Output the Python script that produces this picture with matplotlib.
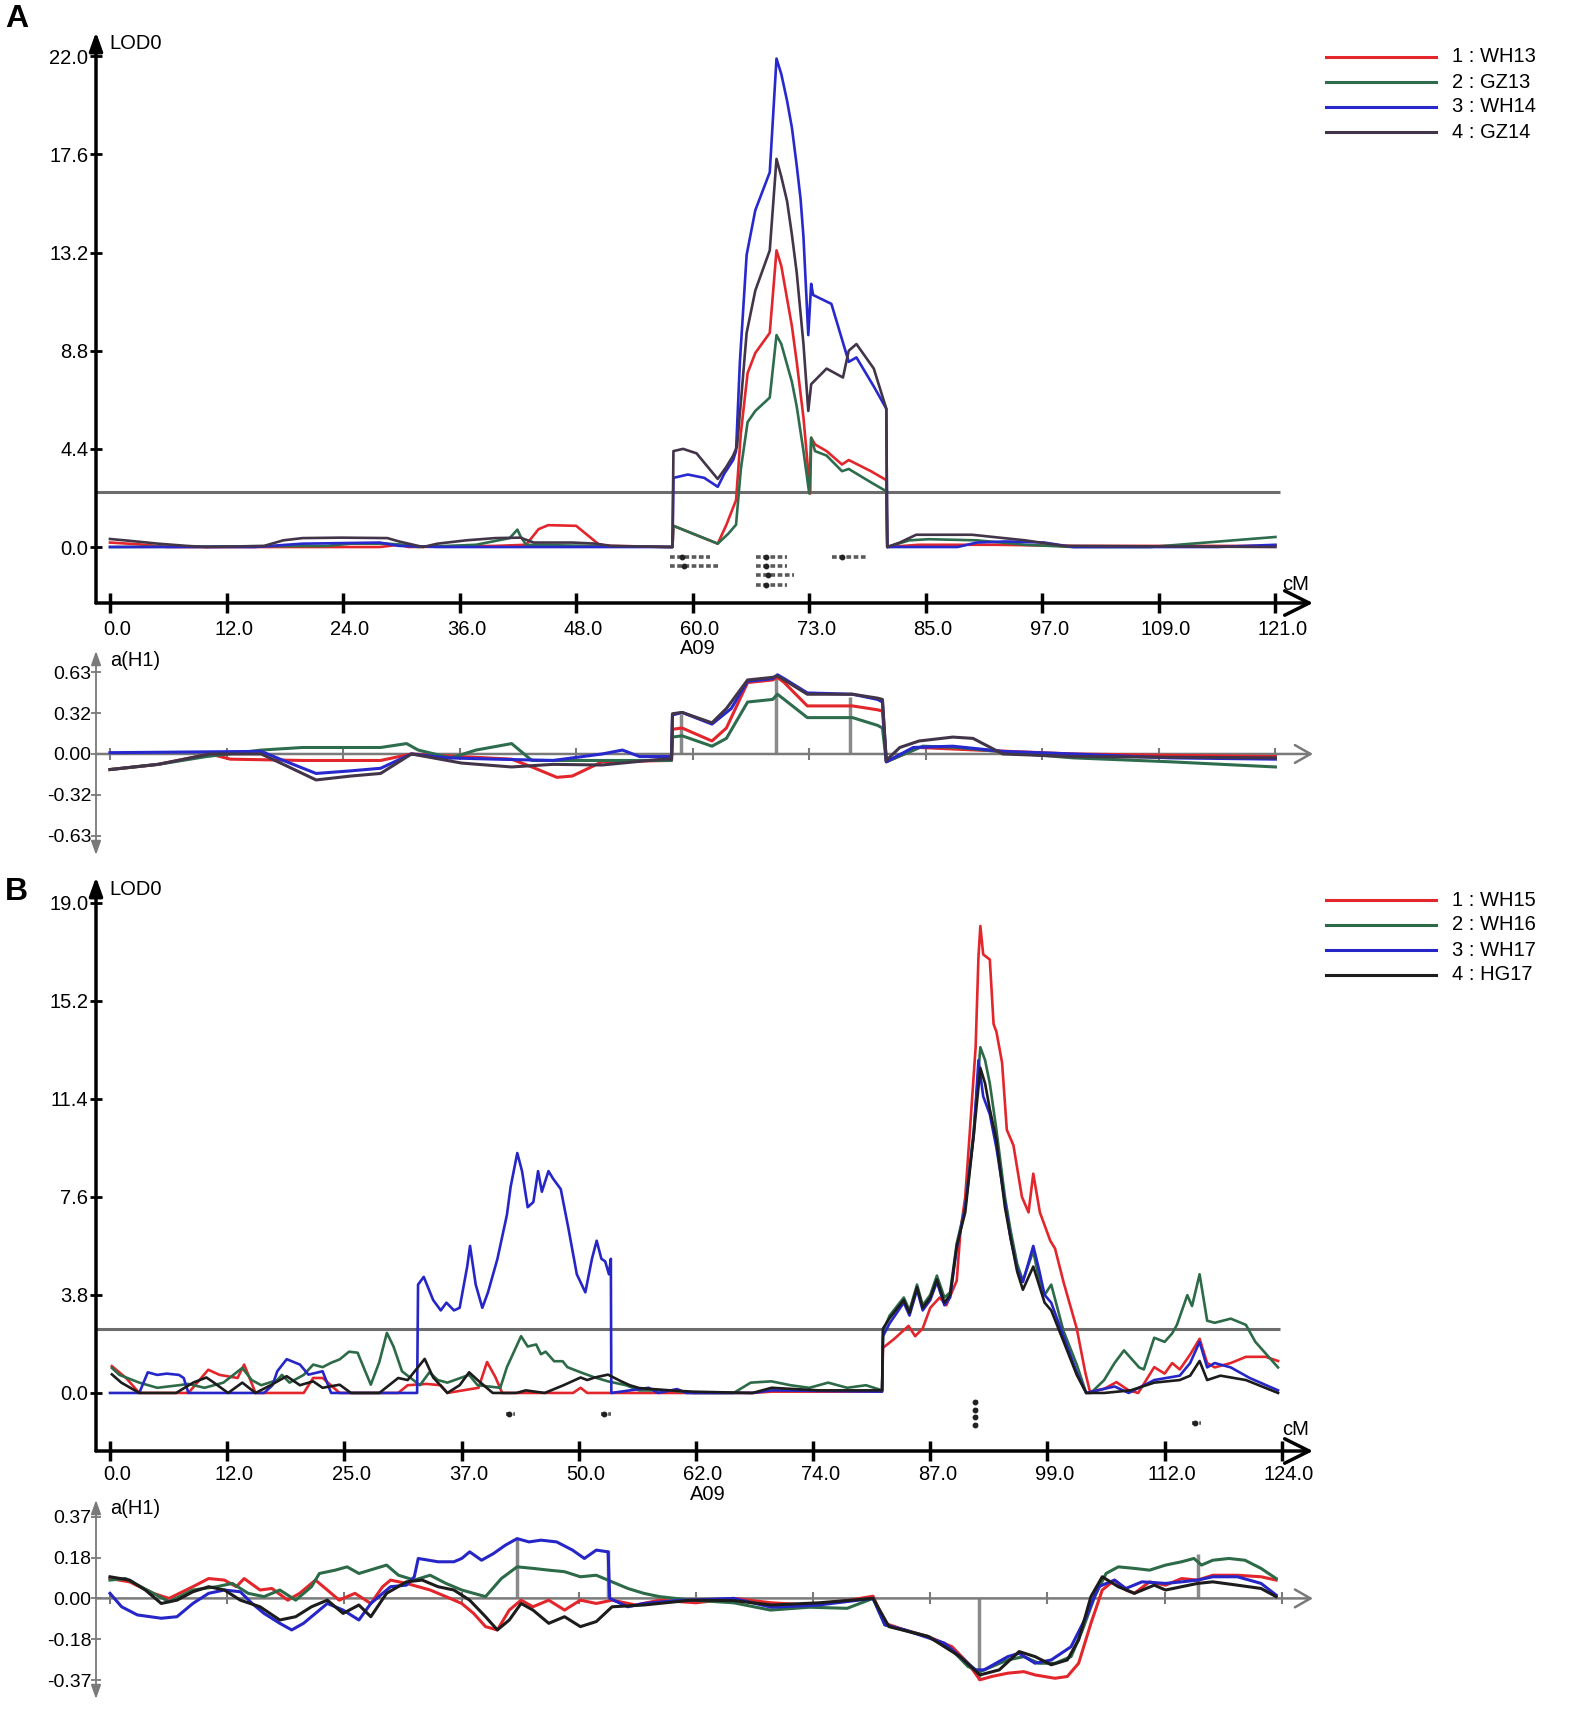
import matplotlib
matplotlib.use('Agg')
import matplotlib.pyplot as plt
from matplotlib.lines import Line2D
from matplotlib.transforms import ScaledTranslation

plt.rcParams['font.family'] = ['Liberation Sans', 'DejaVu Sans']

# ---------------- data ----------------
A_NAMES = ['1 : WH13', '2 : GZ13', '3 : WH14', '4 : GZ14']
B_NAMES = ['1 : WH15', '2 : WH16', '3 : WH17', '4 : HG17']
A_COLORS = ['#e3262b', '#2e6c4e', '#2828cf', '#433549']
B_COLORS = ['#e3262b', '#2d6a48', '#2626c8', '#1c1c1c']

A_XTICKS = [0, 12.1, 24.2, 36.3, 48.4, 60.5, 72.6, 84.7, 96.8, 108.9, 121]
A_XLABELS = ['0.0', '12.0', '24.0', '36.0', '48.0', '60.0', '73.0', '85.0', '97.0', '109.0', '121.0']
A_YTICKS = [0, 4.4, 8.8, 13.2, 17.6, 22.0]
A_AH1_TICKS = [-0.63, -0.315, 0, 0.315, 0.63]
A_AH1_LABELS = ['-0.63', '-0.32', '0.00', '0.32', '0.63']

B_XTICKS = [0, 12.4, 24.8, 37.2, 49.6, 62, 74.4, 86.8, 99.2, 111.6, 124]
B_XLABELS = ['0.0', '12.0', '25.0', '37.0', '50.0', '62.0', '74.0', '87.0', '99.0', '112.0', '124.0']
B_YTICKS = [0, 3.8, 7.6, 11.4, 15.2, 19.0]
B_AH1_TICKS = [-0.37, -0.185, 0, 0.185, 0.37]
B_AH1_LABELS = ['-0.37', '-0.18', '0.00', '0.18', '0.37']

A_THRESH = 2.45
B_THRESH = 2.48

# panel A, LOD profiles (cM, LOD)
A_LOD_WH13 = [(0, 0.2), (3, 0.12), (6, 0.0), (10, 0.0), (28, 0.0), (30, 0.1), (31, 0.0), (40, 0.05),
              (43.2, 0.1), (44.5, 0.8), (45.5, 0.98), (48.4, 0.95), (50.8, 0.1), (52, 0.05), (58.4, 0.0),
              (58.5, 0.95), (63.1, 0.15), (64.0, 1.0), (65.0, 2.1), (65.5, 5.1), (66.2, 7.8), (67.0, 8.7),
              (68.5, 9.6), (69.2, 13.3), (69.7, 12.6), (70.8, 9.9), (71.3, 8.3), (72.0, 5.8), (72.7, 2.4),
              (72.8, 4.9), (73.2, 4.6), (74.4, 4.3), (76.0, 3.7), (76.7, 3.9), (79.0, 3.4), (80.6, 3.0),
              (80.7, 0.0), (84, 0.1), (92, 0.1), (100, 0.05), (121, 0.05)]
A_LOD_GZ13 = [(0, 0.0), (22.5, 0.05), (25, 0.15), (28.8, 0.15), (30.5, 0.1), (32, 0.0), (38, 0.1),
              (41.5, 0.4), (42.3, 0.78), (42.6, 0.5), (43.2, 0.1), (50, 0.05), (58.4, 0.0), (58.5, 0.95),
              (63.1, 0.15), (64.2, 0.6), (65.0, 1.0), (65.5, 3.5), (66.2, 5.6), (67.0, 6.1), (68.5, 6.7),
              (69.2, 9.5), (69.7, 9.1), (70.8, 7.4), (71.3, 6.3), (72.0, 4.3), (72.6, 2.4), (72.8, 4.9),
              (73.2, 4.3), (74.4, 4.1), (76.0, 3.4), (76.7, 3.5), (79.0, 2.9), (80.6, 2.5), (80.7, 0.0),
              (83, 0.3), (85, 0.35), (90, 0.3), (95, 0.1), (100, 0.0), (108, 0.0), (121, 0.45)]
A_LOD_WH14 = [(0, 0.0), (15, 0.0), (20, 0.15), (28, 0.2), (30, 0.05), (34, 0.0), (58.4, 0.0), (58.5, 3.1),
              (60.0, 3.25), (61.7, 3.1), (63.1, 2.7), (63.8, 3.3), (64.7, 3.9), (65.0, 4.3), (65.4, 8.3),
              (66.1, 13.1), (67.0, 15.1), (68.5, 16.8), (69.2, 21.9), (69.7, 21.2), (70.3, 20.0),
              (70.8, 18.8), (71.3, 17.1), (71.7, 15.6), (72.0, 13.9), (72.5, 9.5), (72.8, 11.8), (73.0, 11.3),
              (74.9, 10.9), (76.7, 8.3), (77.5, 8.5), (79.3, 7.2), (80.6, 6.2), (80.7, 0.0), (88, 0.0),
              (90, 0.2), (93, 0.25), (97, 0.2), (100, 0.0), (115, 0.0), (121, 0.1)]
A_LOD_GZ14 = [(0, 0.36), (2, 0.28), (5, 0.15), (8, 0.05), (10, 0.0), (16, 0.05), (18, 0.3), (20, 0.4),
              (24, 0.42), (28.8, 0.4), (30, 0.25), (32.5, 0.0), (34, 0.15), (37, 0.3), (40, 0.4),
              (42.6, 0.42), (44, 0.2), (48, 0.2), (50.5, 0.15), (52, 0.05), (58.4, 0.0), (58.5, 4.3),
              (59.5, 4.4), (60.9, 4.2), (63.1, 3.05), (64.0, 3.6), (64.7, 4.1), (65.1, 4.5), (65.6, 7.0),
              (66.1, 9.6), (67.0, 11.5), (68.5, 13.3), (69.2, 17.4), (69.7, 16.6), (70.3, 15.5),
              (70.8, 14.0), (71.3, 12.3), (72.0, 9.1), (72.5, 6.1), (72.8, 7.3), (74.4, 8.0), (76.1, 7.6),
              (76.7, 8.8), (77.5, 9.1), (79.3, 8.0), (80.6, 6.2), (80.7, 0.0), (82, 0.2), (83.7, 0.55),
              (89.5, 0.55), (95, 0.3), (99, 0.05), (121, 0.0)]

# panel A, additive effect a(H1)
A_AH1_WH13 = [(0, -0.12), (5, -0.08), (10.4, 0.0), (12.5, -0.04), (20, -0.05), (28.1, -0.05), (31.3, 0.0),
              (36.5, -0.02), (41.7, -0.04), (43.8, -0.1), (46.4, -0.18), (48, -0.17), (51.1, -0.06),
              (58.3, -0.05), (58.4, 0.19), (59.4, 0.2), (62.5, 0.1), (64, 0.2), (66.2, 0.55), (68.8, 0.57),
              (69.3, 0.59), (70, 0.55), (72.4, 0.37), (77.1, 0.37), (79.7, 0.34), (80.2, 0.33),
              (80.6, -0.06), (84, 0.05), (90, 0.03), (100, 0.0), (110, -0.01), (121, -0.02)]
A_AH1_GZ13 = [(0, -0.12), (5, -0.08), (10, -0.02), (15.7, 0.03), (20, 0.05), (28.1, 0.05), (30.8, 0.08),
              (32, 0.03), (35.4, -0.03), (38, 0.03), (41.7, 0.08), (43.8, -0.05), (50, -0.05), (58.3, -0.05),
              (58.4, 0.13), (59.4, 0.14), (62.5, 0.06), (64, 0.12), (66.2, 0.40), (68.8, 0.42), (69.3, 0.46),
              (70, 0.42), (72.4, 0.28), (77.1, 0.28), (79.7, 0.22), (80.2, 0.2), (80.6, -0.06), (84.4, 0.06),
              (88, 0.05), (95, 0.0), (100, -0.03), (110, -0.06), (121, -0.1)]
A_AH1_WH14 = [(0, 0.01), (15.7, 0.02), (18, -0.05), (21.4, -0.15), (25, -0.13), (28.1, -0.11), (31.3, 0.0),
              (35, -0.03), (40, -0.04), (46, -0.05), (51.1, 0.0), (53.2, 0.03), (55, -0.02), (58.3, -0.02),
              (58.4, 0.30), (59.4, 0.32), (62.5, 0.23), (64.5, 0.35), (66.2, 0.56), (68.8, 0.58), (69.3, 0.61),
              (70, 0.58), (72.4, 0.47), (77.1, 0.46), (79.7, 0.42), (80.2, 0.4), (80.6, -0.06), (83.4, 0.05),
              (87.5, 0.06), (92.7, 0.02), (100, 0.0), (110, -0.03), (121, -0.04)]
A_AH1_GZ14 = [(0, -0.12), (5, -0.08), (10.4, 0.0), (15.7, 0.0), (18, -0.08), (21.4, -0.2), (25, -0.17),
              (28.1, -0.15), (31.3, 0.0), (36.5, -0.07), (41.7, -0.1), (46, -0.08), (51.1, -0.085),
              (57.3, -0.04), (58.3, -0.04), (58.4, 0.31), (59.4, 0.32), (62.5, 0.24), (64, 0.35), (66.2, 0.57),
              (68.8, 0.59), (69.3, 0.6), (70, 0.57), (72.4, 0.46), (77.1, 0.46), (79.7, 0.43), (80.2, 0.42),
              (80.6, -0.05), (82, 0.05), (84, 0.1), (87.5, 0.13), (89.6, 0.12), (92.7, 0.0), (100, -0.02),
              (121, -0.03)]

A_QTL_BARS = [(58.1, 62.3, -0.44), (58.1, 63.1, -0.83), (67.1, 70.3, -0.44), (67.1, 70.3, -0.83),
              (67.1, 71.0, -1.27), (67.1, 70.3, -1.71), (75.0, 78.5, -0.44)]
A_AH1_PEAKS = [(59.3, 0.31), (69.2, 0.61), (76.8, 0.44)]

# panel B, LOD profiles
B_LOD_WH15 = [(0.2, 1.04), (1.7, 0.58), (3.1, 0.0), (8.3, 0.0), (10.4, 0.9), (11.6, 0.7), (13.5, 0.58),
              (14.2, 1.1), (15.4, 0.0), (20.5, 0.0), (21.5, 0.58), (22.5, 0.58), (24.3, 0.0), (30.5, 0.0),
              (31.5, 0.3), (33.5, 0.35), (35.0, 0.3), (35.7, 0.0), (39.0, 0.2), (39.9, 1.2), (40.8, 0.6),
              (41.5, 0.0), (49.0, 0.0), (49.8, 0.2), (50.5, 0.0), (68, 0.0), (70, 0.05), (81.7, 0.05),
              (81.8, 1.75), (83, 2.1), (84.5, 2.6), (85.2, 2.2), (86.0, 2.5), (86.8, 3.3), (87.8, 3.7),
              (88.5, 3.4), (89.6, 4.35), (90.0, 6.3), (90.5, 7.6), (91.0, 10.2), (91.6, 13.4), (91.9, 16.9),
              (92.1, 18.1), (92.4, 17.0), (93.1, 16.8), (93.5, 14.3), (93.8, 14.0), (94.4, 12.8),
              (94.9, 10.2), (95.6, 9.6), (96.5, 7.6), (97.2, 7.0), (97.7, 8.5), (98.4, 7.0), (99.5, 5.9),
              (100.0, 5.6), (100.9, 4.3), (102.3, 2.5), (103.2, 0.8), (103.7, 0.05), (105.2, 0.16),
              (106.5, 0.42), (107.8, 0.1), (108.8, 0.0), (110.5, 1.0), (111.6, 0.75), (112.4, 1.16),
              (113.2, 0.91), (114.3, 1.49), (115.3, 2.1), (116.1, 1.16), (116.9, 0.99), (118.6, 1.16),
              (120.2, 1.4), (122.3, 1.4), (123.6, 1.24)]
B_LOD_WH16 = [(0.2, 0.97), (1.0, 0.7), (3.1, 0.4), (5, 0.2), (7.3, 0.3), (8.3, 0.35), (10, 0.2), (12, 0.4),
              (14.0, 0.97), (15.0, 0.5), (16, 0.3), (17.7, 0.5), (18.2, 0.7), (19, 0.4), (20.5, 0.7),
              (21.5, 1.1), (22.5, 1.0), (23.4, 1.17), (24.3, 1.3), (25.3, 1.6), (26.2, 1.56), (27.6, 0.32),
              (28.5, 1.2), (29.3, 2.33), (30.0, 1.8), (30.9, 0.84), (32.8, 0.3), (33.8, 0.8), (34.7, 0.5),
              (35.7, 0.4), (38.0, 0.7), (38.9, 0.3), (41.3, 0.2), (42.0, 1.0), (43.5, 2.2), (44.2, 1.8),
              (45.1, 1.88), (45.6, 1.5), (46.1, 1.6), (47.0, 1.23), (47.9, 1.23), (48.4, 1.0), (49.8, 0.8),
              (51.3, 0.6), (52.7, 0.45), (54.6, 0.3), (56.0, 0.1), (59.3, 0.1), (61.7, 0.0), (66, 0.0),
              (67.8, 0.4), (70, 0.45), (72, 0.3), (74, 0.2), (76, 0.4), (78, 0.2), (80, 0.3), (81.7, 0.1),
              (81.8, 2.4), (82.5, 3.0), (84, 3.7), (84.6, 3.2), (85.4, 4.2), (86.0, 3.4), (86.8, 3.8),
              (87.5, 4.55), (88.3, 3.7), (88.9, 3.9), (89.6, 5.8), (90.5, 7.2), (91.4, 10.2), (92.1, 13.4),
              (92.6, 12.9), (93.1, 12.0), (93.8, 10.2), (94.7, 7.6), (95.3, 6.3), (96.0, 5.0), (96.6, 4.35),
              (97.7, 5.5), (98.2, 4.6), (98.9, 3.8), (99.6, 4.2), (100.9, 2.4), (102.3, 1.1), (103.3, 0.0),
              (103.8, 0.0), (105.2, 0.5), (106.3, 1.16), (107.3, 1.65), (108.9, 0.99), (109.4, 0.91),
              (110.5, 2.14), (111.6, 1.98), (112.4, 2.31), (112.9, 2.64), (114.0, 3.79), (114.5, 3.37),
              (115.3, 4.6), (116.1, 2.8), (116.9, 2.72), (118.6, 2.88), (120.2, 2.64), (121.2, 1.98),
              (123.6, 0.99)]
B_LOD_WH17 = [(0, 0.0), (3.1, 0.0), (4.0, 0.8), (5.0, 0.7), (6, 0.75), (7.3, 0.7), (7.8, 0.58), (8.3, 0.0),
              (16.3, 0.0), (17.2, 0.3), (17.7, 0.84), (18.7, 1.31), (20.1, 1.1), (21.0, 0.71), (22.5, 0.84),
              (23.4, 0.0), (32.5, 0.0), (32.6, 4.2), (33.2, 4.5), (34.2, 3.6), (35.0, 3.2), (35.6, 3.5),
              (36.4, 3.2), (37.0, 3.3), (37.8, 4.9), (38.1, 5.7), (38.7, 4.2), (39.4, 3.3), (40.0, 3.9),
              (41.0, 5.2), (42.0, 6.9), (42.4, 8.0), (43.1, 9.3), (43.6, 8.6), (44.2, 7.2), (44.8, 7.4),
              (45.3, 8.6), (45.7, 7.8), (46.4, 8.6), (46.9, 8.3), (47.7, 7.9), (48.5, 6.4), (49.4, 4.6),
              (50.3, 3.9), (51.0, 5.2), (51.5, 5.9), (52.0, 5.2), (52.4, 5.1), (52.8, 4.6), (53.0, 5.2),
              (53.05, 0.0), (57, 0.2), (58, 0.0), (60, 0.15), (61, 0.0), (68, 0.0), (70, 0.1), (81.7, 0.05),
              (81.8, 2.2), (82.5, 2.7), (84, 3.5), (84.6, 3.0), (85.4, 4.0), (86.0, 3.2), (86.8, 3.6),
              (87.5, 4.3), (88.3, 3.4), (88.9, 3.7), (89.6, 5.6), (90.5, 7.2), (91.4, 10.0), (91.9, 12.9),
              (92.4, 11.5), (93.1, 10.8), (93.8, 9.5), (94.7, 7.4), (95.3, 6.0), (96.0, 4.8), (96.6, 4.3),
              (97.7, 5.7), (98.3, 4.8), (98.9, 3.8), (99.6, 3.5), (100.9, 2.2), (102.3, 0.8), (103.3, 0.0),
              (105.2, 0.16), (106.3, 0.25), (107.8, 0.0), (110.5, 0.5), (113.2, 0.67), (114.3, 1.16),
              (115.3, 1.98), (116.1, 0.99), (116.9, 1.16), (118.6, 0.99), (120.6, 0.58), (123.6, 0.1)]
B_LOD_HG17 = [(0.2, 0.72), (1.2, 0.4), (3.1, 0.0), (7, 0.0), (8.8, 0.4), (10.2, 0.6), (11, 0.4), (12.5, 0.0),
              (14.0, 0.4), (15.4, 0.0), (17.0, 0.3), (18.7, 0.65), (20.1, 0.3), (21.5, 0.45), (22.5, 0.2),
              (24.3, 0.32), (25.5, 0.0), (28.5, 0.0), (30.5, 0.58), (31.5, 0.5), (33.3, 1.32), (34.2, 0.6),
              (35.7, 0.0), (37.0, 0.3), (38.0, 0.8), (38.9, 0.5), (40.5, 0.0), (43, 0.0), (44, 0.1),
              (46, 0.0), (48.0, 0.3), (49.8, 0.6), (50.5, 0.5), (51.3, 0.6), (52.7, 0.71), (54.1, 0.45),
              (55.0, 0.3), (56.0, 0.19), (59.3, 0.1), (61.7, 0.05), (68, 0.0), (70, 0.2), (75, 0.1),
              (81.7, 0.1), (81.8, 2.5), (82.5, 2.9), (84, 3.6), (84.6, 3.1), (85.4, 4.1), (86.0, 3.3),
              (86.8, 3.7), (87.5, 4.4), (88.3, 3.5), (88.9, 3.8), (89.6, 5.7), (90.5, 7.0), (91.4, 10.0),
              (92.1, 12.6), (92.6, 12.0), (93.1, 11.0), (93.8, 9.8), (94.7, 7.2), (95.3, 6.0), (96.0, 4.7),
              (96.6, 4.0), (97.7, 4.9), (98.3, 4.2), (98.9, 3.5), (99.6, 3.2), (100.9, 2.0), (102.3, 0.7),
              (103.3, 0.0), (105.2, 0.0), (108, 0.1), (110.5, 0.4), (113.2, 0.5), (114.3, 0.67),
              (115.3, 1.24), (116.1, 0.5), (117.5, 0.67), (120.2, 0.5), (123.6, 0.0)]

# panel B, additive effect a(H1)
B_AH1_WH15 = [(0, 0.09), (2.07, 0.075), (4.58, 0.023), (6.25, 0.0), (8.77, 0.053), (10.44, 0.09),
              (12.11, 0.083), (13.37, 0.053), (14.2, 0.09), (15.88, 0.038), (17.14, 0.045), (18.81, -0.008),
              (20.07, 0.023), (21.74, 0.083), (23.0, 0.038), (24.25, -0.008), (25.92, 0.023), (27.6, -0.023),
              (28.85, 0.053), (29.69, 0.083), (31.37, 0.068), (33.88, 0.038), (35.55, 0.008), (37.22, -0.023),
              (38.48, -0.068), (39.74, -0.128), (40.99, -0.143), (42.25, -0.053), (43.5, -0.008),
              (44.76, -0.038), (46.43, -0.008), (48.1, -0.053), (49.78, -0.008), (51.46, -0.023),
              (53.13, -0.008), (55.64, -0.03), (58.15, -0.008), (62, -0.02), (66, 0.0), (70, -0.02),
              (74, -0.03), (78, -0.01), (80.75, 0.01), (82.0, -0.113), (84.1, -0.143), (86.6, -0.173),
              (89.1, -0.219), (90.8, -0.294), (92.05, -0.369), (93.3, -0.354), (95.0, -0.339),
              (96.7, -0.332), (97.9, -0.347), (100.0, -0.362), (101.3, -0.354), (102.5, -0.294),
              (103.8, -0.113), (105.0, 0.038), (106.3, 0.083), (107.5, 0.038), (108.4, 0.023), (110.0, 0.075),
              (111.7, 0.06), (113.4, 0.09), (115.1, 0.083), (116.7, 0.105), (119.3, 0.105), (121.8, 0.098),
              (123.4, 0.083)]
B_AH1_WH16 = [(0, 0.083), (1.65, 0.09), (4.58, 0.023), (6.25, -0.015), (8.77, 0.038), (11.28, 0.053),
              (12.95, 0.068), (14.62, 0.023), (16.3, 0.008), (17.97, 0.038), (19.65, -0.008), (21.32, 0.053),
              (22.16, 0.113), (23.83, 0.128), (25.09, 0.143), (26.34, 0.113), (29.27, 0.151), (30.53, 0.105),
              (32.2, 0.083), (33.88, 0.105), (35.55, 0.068), (37.22, 0.038), (39.74, 0.008), (41.41, 0.09),
              (43.08, 0.143), (44.76, 0.136), (46.43, 0.128), (48.1, 0.121), (49.78, 0.098), (51.46, 0.105),
              (53.13, 0.075), (54.8, 0.045), (56.48, 0.023), (58.15, 0.008), (61.5, -0.008), (66, -0.02),
              (69.9, -0.053), (74, -0.04), (78, -0.045), (80.75, 0.0), (82.0, -0.12), (86.6, -0.173),
              (89.1, -0.234), (90.8, -0.309), (92.05, -0.332), (95.0, -0.279), (96.7, -0.264),
              (98.3, -0.294), (100.0, -0.294), (101.7, -0.264), (102.9, -0.143), (104.2, 0.008),
              (105.4, 0.113), (106.7, 0.143), (108.4, 0.136), (110.0, 0.128), (111.7, 0.151), (113.4, 0.166),
              (114.7, 0.181), (115.5, 0.151), (116.7, 0.173), (118.4, 0.181), (120.1, 0.173), (121.8, 0.136),
              (123.4, 0.09)]
B_AH1_WH17 = [(0, 0.023), (1.23, -0.038), (2.9, -0.075), (5.42, -0.09), (7.09, -0.083), (8.77, -0.023),
              (10.44, 0.023), (12.11, 0.038), (13.79, 0.03), (15.04, -0.023), (16.3, -0.068), (17.97, -0.113),
              (19.23, -0.143), (20.48, -0.113), (22.16, -0.053), (23.0, -0.023), (24.67, -0.053),
              (26.34, -0.098), (27.6, -0.023), (29.69, 0.053), (31.37, 0.06), (32.2, 0.098), (32.62, 0.181),
              (34.71, 0.166), (36.39, 0.166), (37.22, 0.181), (38.06, 0.211), (39.32, 0.173), (40.57, 0.203),
              (41.83, 0.241), (43.08, 0.271), (44.34, 0.256), (45.6, 0.264), (47.27, 0.256), (48.94, 0.219),
              (50.2, 0.181), (51.46, 0.219), (52.71, 0.211), (52.88, 0.0), (54.8, -0.038), (56.48, -0.023),
              (60, -0.01), (66, 0.0), (70, -0.04), (75, -0.03), (80.75, 0.0), (82.0, -0.12), (84.1, -0.143),
              (88.3, -0.203), (91.6, -0.324), (92.5, -0.324), (95.0, -0.264), (96.2, -0.249), (97.9, -0.294),
              (99.6, -0.279), (101.7, -0.219), (103.3, -0.083), (104.6, 0.053), (106.3, 0.083),
              (107.5, 0.045), (109.2, 0.075), (111.7, 0.068), (113.4, 0.075), (115.1, 0.083), (116.7, 0.098),
              (119.3, 0.098), (121.8, 0.068), (123.4, 0.015)]
B_AH1_HG17 = [(0, 0.098), (2.07, 0.083), (3.74, 0.038), (5.42, -0.023), (7.09, -0.008), (8.77, 0.03),
              (10.44, 0.053), (12.11, 0.038), (13.79, -0.008), (15.88, -0.038), (17.97, -0.098),
              (19.65, -0.083), (21.32, -0.038), (23.0, -0.008), (24.67, -0.068), (26.34, -0.03),
              (27.6, -0.083), (29.27, 0.023), (31.37, 0.075), (33.04, 0.083), (34.71, 0.053), (36.39, 0.038),
              (38.06, -0.008), (39.74, -0.083), (40.99, -0.143), (42.25, -0.098), (43.5, -0.023),
              (44.76, -0.053), (46.43, -0.113), (48.1, -0.083), (49.78, -0.128), (51.46, -0.105),
              (53.13, -0.038), (56.48, -0.03), (61.5, -0.008), (66, -0.01), (70, -0.03), (75, -0.02),
              (80.75, 0.0), (82.43, -0.128), (86.6, -0.173), (89.96, -0.264), (92.05, -0.347), (94.1, -0.324),
              (96.2, -0.241), (97.9, -0.264), (99.6, -0.301), (101.3, -0.279), (102.5, -0.188), (103.8, 0.008),
              (105.0, 0.098), (106.7, 0.053), (108.4, 0.023), (110.5, 0.06), (111.7, 0.038), (113.4, 0.053),
              (115.1, 0.068), (116.7, 0.075), (119.3, 0.06), (121.8, 0.045), (123.4, 0.008)]

B_QTL_BARS = [(41.9, 42.9, -0.8), (52.0, 53.0, -0.8), (91.4, 91.9, -0.35), (91.4, 91.9, -0.65),
              (91.4, 91.9, -0.95), (91.4, 91.9, -1.25), (114.5, 115.5, -1.18)]
B_AH1_PEAKS = [(43.1, 0.27), (52.7, 0.22), (92.0, -0.37), (115.1, 0.2)]

# ---------------- drawing ----------------
W, H = 1573, 1712
fig = plt.figure(figsize=(W / 100, H / 100), dpi=100)
FS = 14.5
GRAY = '#7a7a7a'


def box(left, top, right, bottom):
    return [left / W, 1 - bottom / H, (right - left) / W, (bottom - top) / H]


def unzip(pts):
    return [p[0] for p in pts], [p[1] for p in pts]


def lod_axes(rect, xlim, ylim, xticks, xlabels, yticks, series, colors, thresh, thr_end, bars, xpad):
    ax = fig.add_axes(rect)
    ax.patch.set_alpha(0)
    ax.set_xlim(*xlim)
    ax.set_ylim(*ylim)
    for s in ax.spines.values():
        s.set_visible(False)
    ax.annotate('', xy=(0, 1), xytext=(0, 0), xycoords='axes fraction',
                arrowprops=dict(arrowstyle='-|>,head_length=0.7,head_width=0.25', lw=2.5, color='k',
                                shrinkA=0, shrinkB=0, mutation_scale=16))
    ax.annotate('', xy=(1, 0), xytext=(0, 0), xycoords='axes fraction',
                arrowprops=dict(arrowstyle='->,head_length=0.8,head_width=0.4', lw=2.5, color='k',
                                shrinkA=0, shrinkB=0, mutation_scale=22))
    ax.set_xticks(xticks)
    ax.set_xticklabels(xlabels, fontsize=FS)
    ax.set_yticks(yticks)
    ax.set_yticklabels(['%.1f' % v for v in yticks], fontsize=FS)
    ax.tick_params(axis='x', direction='inout', length=14, width=2.5, pad=xpad)
    ax.tick_params(axis='y', direction='inout', length=9, width=2, pad=1)
    off = ScaledTranslation(7 / 100, 0, fig.dpi_scale_trans)
    for lab in ax.get_xticklabels():
        lab.set_transform(lab.get_transform() + off)
    ax.hlines(thresh, xlim[0], thr_end, color='#6c6c6c', lw=2.2, zorder=2)
    for pts, c in zip(series, colors):
        x, y = unzip(pts)
        ax.plot(x, y, color=c, lw=1.9, zorder=3)
    for x0, x1, y in bars:
        ax.plot([x0, x1], [y, y], color='#5a5a5a', lw=2.6, ls=(0, (1.3, 0.7)), zorder=3)
        ax.plot([x0 + (x1 - x0) * 0.3], [y], 'o', color='#222222', ms=3.2, zorder=4)
    ax.text(0.011, 0.979, 'LOD0', transform=ax.transAxes, fontsize=FS, ha='left', va='center')
    return ax


def ah1_axes(rect, xlim, ylim, xticks, yticks, ylabels, series, colors, peaks):
    ax = fig.add_axes(rect)
    ax.patch.set_alpha(0)
    ax.set_xlim(*xlim)
    ax.set_ylim(*ylim)
    for s in ax.spines.values():
        s.set_visible(False)
    ax.spines['bottom'].set_position(('data', 0))
    ax.annotate('', xy=(0, 1), xytext=(0, 0), xycoords='axes fraction',
                arrowprops=dict(arrowstyle='<|-|>,head_length=0.7,head_width=0.25', lw=1.3, color=GRAY,
                                shrinkA=0, shrinkB=0, mutation_scale=12))
    ax.annotate('', xy=(1, 0), xytext=(0, 0), xycoords=('axes fraction', 'data'),
                arrowprops=dict(arrowstyle='->,head_length=0.7,head_width=0.4', lw=1.8, color=GRAY,
                                shrinkA=0, shrinkB=0, mutation_scale=16))
    ax.set_xticks(xticks)
    ax.tick_params(axis='x', direction='inout', length=9, width=1.5, color=GRAY, labelbottom=False)
    ax.set_yticks(yticks)
    ax.set_yticklabels(ylabels, fontsize=FS - 0.5)
    ax.tick_params(axis='y', direction='inout', length=7, width=1.3, color=GRAY, pad=0)
    for x, y in peaks:
        ax.vlines(x, 0, y, color='#8a8a8a', lw=2.5, zorder=2)
    for pts, c in zip(series, colors):
        x, y = unzip(pts)
        ax.plot(x, y, color=c, lw=2.2, zorder=3)
    ax.text(0.012, 0.955, 'a(H1)', transform=ax.transAxes, fontsize=FS, ha='left', va='center')
    return ax


def legend(names, colors, rows_y):
    for name, c, y in zip(names, colors, rows_y):
        fig.add_artist(Line2D([1326 / W, 1436 / W], [1 - y / H, 1 - y / H], color=c, lw=2.2))
        fig.text(1452 / W, 1 - y / H, name, fontsize=FS, ha='left', va='center')


# panel A
axA = lod_axes(box(96, 32, 1313, 603), (-1.45, 124.9), (-2.51, 23.09), A_XTICKS, A_XLABELS, A_YTICKS,
               [A_LOD_WH13, A_LOD_GZ13, A_LOD_WH14, A_LOD_GZ14], A_COLORS, A_THRESH, 121.5, A_QTL_BARS, 5)
axA.text(0.986, 0.032, 'cM', transform=axA.transAxes, fontsize=FS, ha='center', va='center')
ah1_axes(box(96, 651, 1313, 855), (-1.45, 124.9), (-0.778, 0.793), A_XTICKS, A_AH1_TICKS, A_AH1_LABELS,
         [A_AH1_WH13, A_AH1_GZ13, A_AH1_WH14, A_AH1_GZ14], A_COLORS, A_AH1_PEAKS)
fig.text(698 / W, 1 - 648 / H, 'A09', fontsize=FS, ha='center', va='center')
legend(A_NAMES, A_COLORS, [57, 82, 107, 132])
fig.text(5 / W, 1 - 4 / H, 'A', fontsize=23, fontweight='bold', ha='left', va='top')

# panel B
axB = lod_axes(box(96, 877, 1313, 1451), (-1.48, 127.3), (-2.25, 20.0), B_XTICKS, B_XLABELS, B_YTICKS,
               [B_LOD_WH15, B_LOD_WH16, B_LOD_WH17, B_LOD_HG17], B_COLORS, B_THRESH, 123.8, B_QTL_BARS, 3)
axB.text(0.986, 0.038, 'cM', transform=axB.transAxes, fontsize=FS, ha='center', va='center')
ah1_axes(box(96, 1500, 1313, 1699), (-1.48, 127.3), (-0.456, 0.446), B_XTICKS, B_AH1_TICKS, B_AH1_LABELS,
         [B_AH1_WH15, B_AH1_WH16, B_AH1_WH17, B_AH1_HG17], B_COLORS, B_AH1_PEAKS)
fig.text(708 / W, 1 - 1494 / H, 'A09', fontsize=FS, ha='center', va='center')
legend(B_NAMES, B_COLORS, [900, 925, 950, 975])
fig.text(5 / W, 1 - 877 / H, 'B', fontsize=23, fontweight='bold', ha='left', va='top')

fig.savefig('out.png', dpi=100, facecolor='white')
